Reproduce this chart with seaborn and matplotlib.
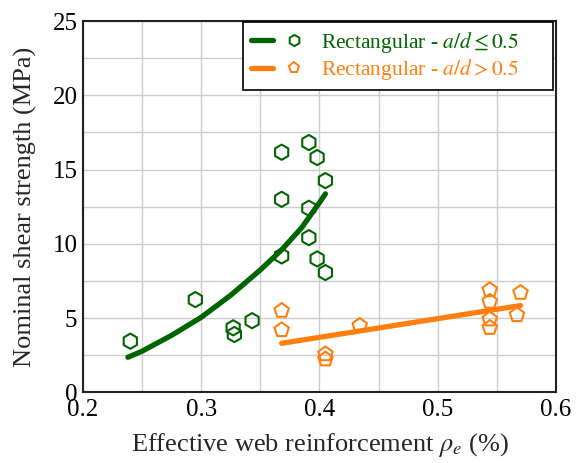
import matplotlib
matplotlib.use("Agg")
import matplotlib.pyplot as plt
import seaborn as sns
import pandas as pd
from matplotlib.lines import Line2D
from matplotlib.legend_handler import HandlerTuple
from matplotlib.ticker import MultipleLocator

# ---- data ----
green_x = [0.240, 0.295, 0.327, 0.328, 0.343, 0.368, 0.391, 0.398, 0.405,
           0.368, 0.391, 0.391, 0.368, 0.398, 0.405]
green_y = [3.45, 6.25, 4.35, 3.90, 4.83, 16.17, 16.82, 15.81, 14.26,
           13.00, 12.40, 10.42, 9.19, 8.99, 8.07]

orange_x = [0.368, 0.368, 0.405, 0.405, 0.434, 0.544, 0.544, 0.544, 0.544,
            0.570, 0.567]
orange_y = [5.51, 4.21, 2.59, 2.24, 4.50, 6.90, 6.12, 4.93, 4.36,
            6.72, 5.22]

green_fit_x = [0.238, 0.250, 0.275, 0.300, 0.325, 0.350, 0.368, 0.385, 0.400, 0.405]
green_fit_y = [2.37, 2.78, 3.85, 5.06, 6.55, 8.25, 9.60, 11.10, 12.78, 13.37]

orange_fit_x = [0.368, 0.570]
orange_fit_y = [3.31, 5.85]

labels = [r"Rectangular - $a/d \leq 0.5$", r"Rectangular - $a/d > 0.5$"]
xticks = [0.2, 0.3, 0.4, 0.5, 0.6]
yticks = [0, 5, 10, 15, 20, 25]

GREEN = "#006400"
ORANGE = "#FF7F0E"

sns.set_style("white")
plt.rcParams["font.family"] = ["Liberation Serif", "DejaVu Serif"]
plt.rcParams["mathtext.fontset"] = "stix"

fig = plt.figure(figsize=(5.82, 4.63), dpi=100)
ax = fig.add_axes([0.1426, 0.1523, 0.8127, 0.8023])

dg = pd.DataFrame({"x": green_x, "y": green_y})
do = pd.DataFrame({"x": orange_x, "y": orange_y})
fg = pd.DataFrame({"x": green_fit_x, "y": green_fit_y})
fo = pd.DataFrame({"x": orange_fit_x, "y": orange_fit_y})

sns.lineplot(data=fg, x="x", y="y", ax=ax, color=GREEN, lw=3.8, sort=False,
             estimator=None, zorder=3)
sns.lineplot(data=fo, x="x", y="y", ax=ax, color=ORANGE, lw=3.8, sort=False,
             estimator=None, zorder=3)
sns.scatterplot(data=dg, x="x", y="y", ax=ax, marker="h", s=120,
                facecolor="none", edgecolor=GREEN, linewidth=1.5, zorder=4)
sns.scatterplot(data=do, x="x", y="y", ax=ax, marker="p", s=120,
                facecolor="none", edgecolor=ORANGE, linewidth=1.5, zorder=4)

ax.set_xlim(0.2, 0.6)
ax.set_ylim(0, 25)
ax.set_xticks(xticks)
ax.set_xticklabels([f"{v:g}" for v in xticks])
ax.set_yticks(yticks)
ax.set_yticklabels([str(v) for v in yticks])
ax.xaxis.set_minor_locator(MultipleLocator(0.05))
ax.yaxis.set_minor_locator(MultipleLocator(2.5))
ax.grid(True, which="both", color="#cccccc", lw=1.0, zorder=0)
ax.set_axisbelow(True)
ax.tick_params(which="major", direction="in", length=5, width=1.2,
               labelsize=18, colors="#222222")
ax.tick_params(axis="x", pad=5)
ax.tick_params(axis="y", pad=4)
ax.tick_params(which="minor", direction="in", length=0)
ax.tick_params(axis="both", labelcolor="black")
for s in ax.spines.values():
    s.set_color("#222222")
    s.set_linewidth(1.5)

ax.set_xlabel(r"Effective web reinforcement $\rho_e$ (%)", fontsize=19, labelpad=7)
ax.set_ylabel("Nominal shear strength (MPa)", fontsize=19, labelpad=11)

h1 = (Line2D([], [], color=GREEN, lw=3.8),
      Line2D([], [], ls="none", marker="h", markersize=8, mfc="none",
             mec=GREEN, mew=1.4))
h2 = (Line2D([], [], color=ORANGE, lw=3.8),
      Line2D([], [], ls="none", marker="p", markersize=8, mfc="none",
             mec=ORANGE, mew=1.4))
leg = ax.legend([h1, h2], labels,
                handler_map={tuple: HandlerTuple(ndivide=2, pad=0.47)},
                loc="upper left", bbox_to_anchor=(0.3383, 0.80, 0.6554, 0.1973),
                mode="expand",
                borderaxespad=0, fontsize=15.5, handlelength=2.56,
                handletextpad=0.7, fancybox=False, framealpha=1,
                edgecolor="black", labelspacing=0.12, borderpad=0.35)
leg.get_frame().set_linewidth(1.2)
for t, c in zip(leg.get_texts(), [GREEN, ORANGE]):
    t.set_color(c)

fig.savefig("out.png", dpi=100)
